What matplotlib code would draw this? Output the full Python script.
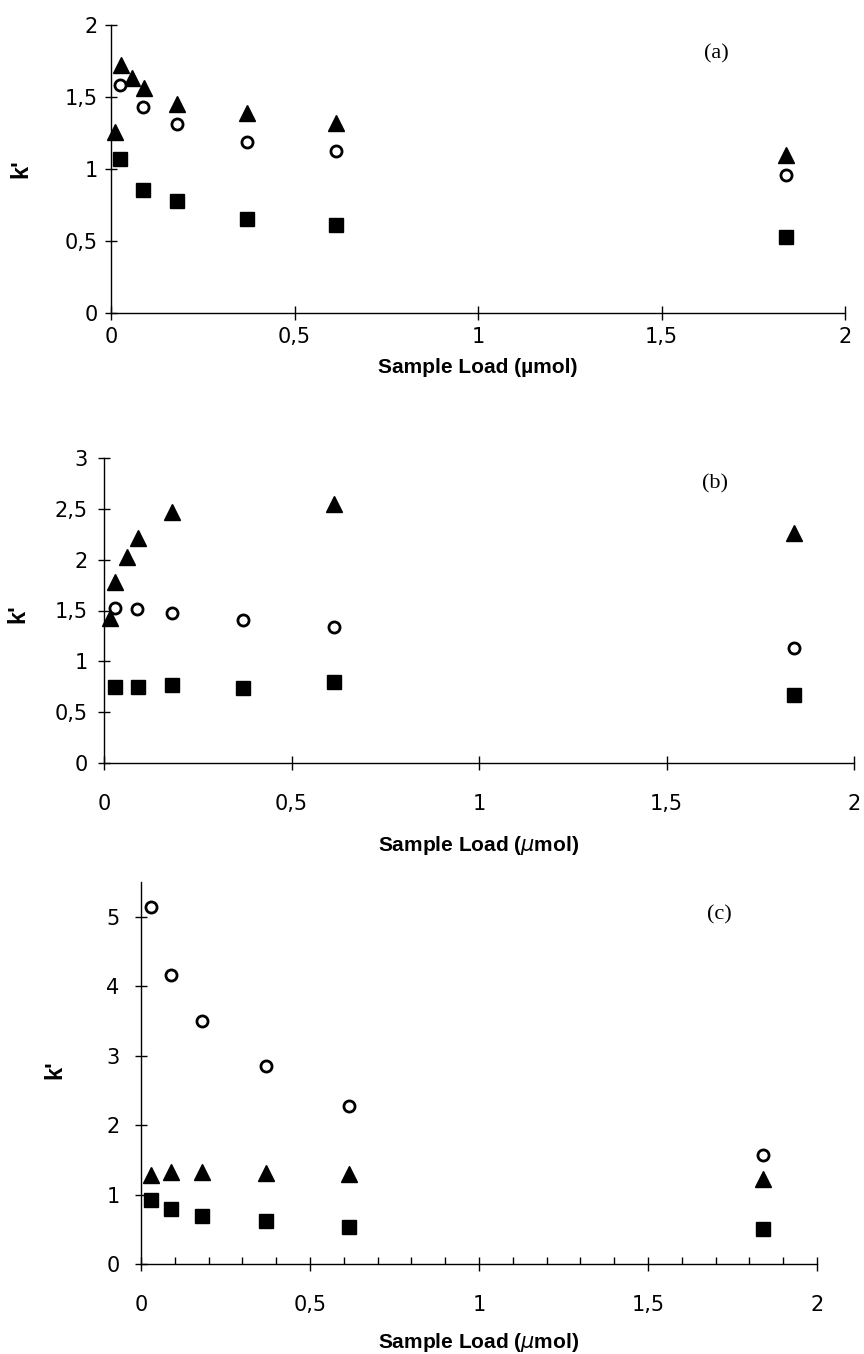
import numpy as np
import matplotlib
matplotlib.use("Agg")
from matplotlib import pyplot as plt
from matplotlib.ticker import FixedLocator, FuncFormatter, MultipleLocator

plt.rcParams['font.family'] = ['Liberation Sans', 'DejaVu Sans']

# panel (a)
xa_tri = [0.011, 0.027, 0.057, 0.09, 0.18, 0.37, 0.614, 1.84]
ya_tri = [1.26, 1.72, 1.63, 1.56, 1.45, 1.39, 1.32, 1.10]
xa_circ = [0.025, 0.088, 0.18, 0.37, 0.614, 1.84]
ya_circ = [1.58, 1.43, 1.31, 1.19, 1.125, 0.96]
xa_sq = [0.025, 0.087, 0.18, 0.37, 0.614, 1.84]
ya_sq = [1.07, 0.855, 0.78, 0.65, 0.61, 0.53]

# panel (b)
xb_tri = [0.016, 0.029, 0.06, 0.09, 0.18, 0.614, 1.84]
yb_tri = [1.43, 1.78, 2.03, 2.21, 2.47, 2.55, 2.26]
xb_circ = [0.03, 0.087, 0.18, 0.37, 0.614, 1.84]
yb_circ = [1.52, 1.51, 1.48, 1.41, 1.34, 1.13]
xb_sq = [0.03, 0.09, 0.18, 0.37, 0.614, 1.84]
yb_sq = [0.75, 0.75, 0.77, 0.74, 0.80, 0.67]

# panel (c)
xc = [0.03, 0.09, 0.18, 0.37, 0.614, 1.84]
yc_circ = [5.14, 4.16, 3.50, 2.85, 2.27, 1.57]
yc_tri = [1.28, 1.32, 1.32, 1.31, 1.30, 1.22]
yc_sq = [0.92, 0.79, 0.69, 0.62, 0.53, 0.50]

xticks = [0, 0.5, 1, 1.5, 2]
W, H = 864, 1354

def comma(v, pos):
    return ('%g' % v).replace('.', ',')

fig = plt.figure(figsize=(W / 100, H / 100), dpi=100)

def make_axes(x0, x1, y0, y1):
    # pixel box -> figure fraction
    return fig.add_axes([x0 / W, 1 - y0 / H, (x1 - x0) / W, (y0 - y1) / H])

def style(ax, ymax, yticks, xpad, ypad, ylab_x, ylab_y, xlab_y, xlabel, tag, tag_xy):
    ax.set_xlim(0, 2)
    ax.set_ylim(0, ymax)
    for s in ['top', 'right']:
        ax.spines[s].set_visible(False)
    for s in ['left', 'bottom']:
        ax.spines[s].set_linewidth(1.0)
    ax.xaxis.set_major_locator(FixedLocator(xticks))
    ax.yaxis.set_major_locator(FixedLocator(yticks))
    ax.xaxis.set_major_formatter(FuncFormatter(comma))
    ax.yaxis.set_major_formatter(FuncFormatter(comma))
    ax.tick_params(axis='both', direction='inout', width=1.0, labelsize=15)
    ax.tick_params(axis='x', pad=xpad, length=10)
    ax.tick_params(axis='y', pad=ypad, length=9)
    for lab in ax.get_xticklabels() + ax.get_yticklabels():
        lab.set_family(['DejaVu Sans'])
    ax.set_xlabel(xlabel, fontsize=15, fontweight='bold')
    ax.xaxis.set_label_coords(0.5, xlab_y)
    ax.xaxis.label.set_va('center')
    ax.set_ylabel("k'", fontsize=17, fontweight='bold')
    ax.yaxis.set_label_coords(ylab_x, ylab_y)
    ax.yaxis.label.set_va('center')
    ax.text(tag_xy[0], tag_xy[1], tag, fontsize=16,
            family=['Liberation Serif', 'DejaVu Serif'], ha='center', va='center')

def pts(ax, x, y, kind):
    if kind == 'tri':
        ax.plot(x, y, '^', color='black', ms=11, ls='none', clip_on=False)
    elif kind == 'circ':
        ax.plot(x, y, 'o', mfc='white', mec='black', mew=2.0, ms=8, ls='none', clip_on=False)
    else:
        ax.plot(x, y, 's', color='black', ms=10.5, ls='none', clip_on=False)

# (a)
ax1 = make_axes(111, 845, 313, 25)
pts(ax1, xa_tri, ya_tri, 'tri')
pts(ax1, xa_circ, ya_circ, 'circ')
pts(ax1, xa_sq, ya_sq, 'sq')
style(ax1, 2, [0, 0.5, 1, 1.5, 2], 5, 5, -0.123, 0.5, -0.19,
      'Sample Load (\u00b5mol)', '(a)', (1.65, 1.8))

# (b)
ax2 = make_axes(104, 854, 763, 458)
pts(ax2, xb_tri, yb_tri, 'tri')
pts(ax2, xb_circ, yb_circ, 'circ')
pts(ax2, xb_sq, yb_sq, 'sq')
style(ax2, 3, [0, 0.5, 1, 1.5, 2, 2.5, 3], 17, 7, -0.115, 0.49, -0.27,
      'Sample Load ($\\mu$mol)', '(b)', (1.63, 2.75))

# (c)
ax3 = make_axes(141, 817, 1264, 882)
pts(ax3, xc, yc_circ, 'circ')
pts(ax3, xc, yc_tri, 'tri')
pts(ax3, xc, yc_sq, 'sq')
style(ax3, 5.5, [0, 1, 2, 3, 4, 5], 17, 11, -0.127, 0.51, -0.205,
      'Sample Load ($\\mu$mol)', '(c)', (1.71, 5.02))
ax3.xaxis.set_minor_locator(MultipleLocator(0.1))
ax3.tick_params(axis='x', which='minor', direction='in', length=5, width=1.0)

fig.savefig('out.png', dpi=100)
